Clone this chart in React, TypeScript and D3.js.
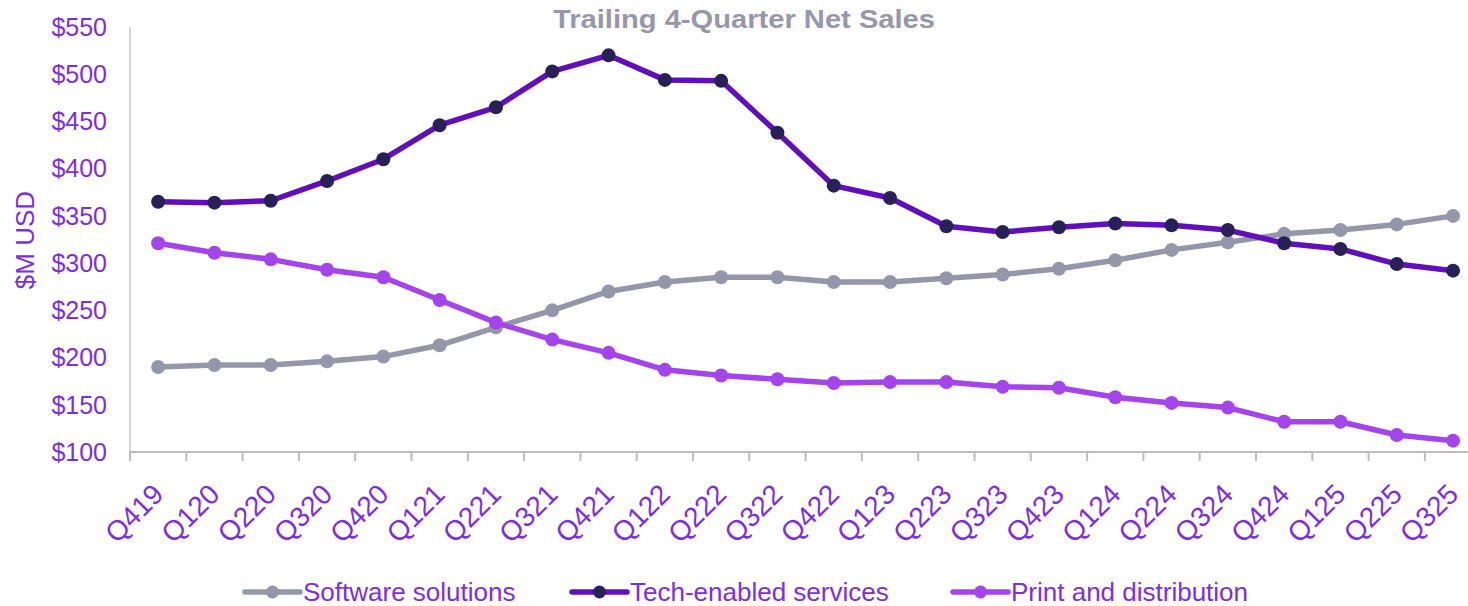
import React from "react";
import * as d3 from "d3";

const quarters = ["Q419","Q120","Q220","Q320","Q420","Q121","Q221","Q321","Q421","Q122","Q222","Q322","Q422","Q123","Q223","Q323","Q423","Q124","Q224","Q324","Q424","Q125","Q225","Q325"];
const software = [190,192,192,196,201,213,232,250,270,280,285,285,280,280,284,288,294,303,314,322,331,335,341,350];
const techServices = [365,364,366,387,410,446,465,503,520,494,493,438,382,369,339,333,338,342,340,335,321,315,299,292];
const printDist = [321,311,304,293,285,261,237,219,205,187,181,177,173,174,174,169,168,158,152,147,132,132,118,112];
const yTicks = [100,150,200,250,300,350,400,450,500,550];

const TEXT = "#7A2FE3";
const series = [
  { name: "Software solutions", values: software, line: "#9696AA", marker: "#9696AA" },
  { name: "Tech-enabled services", values: techServices, line: "#600FBA", marker: "#2A2058" },
  { name: "Print and distribution", values: printDist, line: "#A445EC", marker: "#A445EC" },
];
const legendX = [245, 572, 953];

export default function App() {
  const W = 1468, H = 606;
  const left = 130, right = 130 + 24 * 56.3;
  const x = d3.scaleBand<string>().domain(quarters).range([left, right]).padding(0);
  const y = d3.scaleLinear().domain([100, 550]).range([452, 27]);
  const cx = (q: string) => (x(q) as number) + x.bandwidth() / 2;
  const font = "'Liberation Sans', Arial, sans-serif";
  return (
    <svg width={W} height={H} style={{ position: "absolute", left: 0, top: 0 }} fontFamily={font}>
      <text x={744} y={28} textAnchor="middle" fontSize={26} fontWeight="bold" fill="#9797AB" textLength={382} lengthAdjust="spacingAndGlyphs">Trailing 4-Quarter Net Sales</text>
      <line x1={left} x2={left} y1={y(550)} y2={y(100)} stroke="#C8C8C8" strokeWidth={1.5} />
      <line x1={left} x2={right} y1={y(100)} y2={y(100)} stroke="#BDBDBD" strokeWidth={2} />
      {quarters.map((q, i) => (
        <line key={"t" + i} x1={x(q)} x2={x(q)} y1={y(100)} y2={y(100) + 9} stroke="#BDBDBD" strokeWidth={2} />
      ))}
      {yTicks.map((t) => (
        <text key={"y" + t} x={107} y={y(t)} dy="0.35em" textAnchor="end" fontSize={25} fill={TEXT}>${t}</text>
      ))}
      <text transform={`translate(34,${240}) rotate(-90)`} textAnchor="middle" fontSize={26} fill={TEXT}>$M USD</text>
      {quarters.map((q) => (
        <text key={"x" + q} transform={`translate(${cx(q)},${489}) rotate(-45)`} textAnchor="end" dy="0.35em" fontSize={28} fill={TEXT}>{q}</text>
      ))}
      {series.map((s) => {
        const line = d3.line<number>().x((_, i) => cx(quarters[i])).y((v) => y(v));
        return (
          <g key={s.name}>
            <path d={line(s.values) || ""} fill="none" stroke={s.line} strokeWidth={5.5} strokeLinejoin="round" />
            {s.values.map((v, i) => (
              <circle key={i} cx={cx(quarters[i])} cy={y(v)} r={7} fill={s.marker} />
            ))}
          </g>
        );
      })}
      {series.map((s, i) => (
        <g key={"l" + s.name}>
          <line x1={legendX[i]} x2={legendX[i] + 55} y1={592} y2={592} stroke={s.line} strokeWidth={5.5} strokeLinecap="round" />
          <circle cx={legendX[i] + 27.5} cy={592} r={6.5} fill={s.marker} />
          <text x={legendX[i] + 58} y={592} dy="0.35em" fontSize={26} fill={TEXT}>{s.name}</text>
        </g>
      ))}
    </svg>
  );
}
